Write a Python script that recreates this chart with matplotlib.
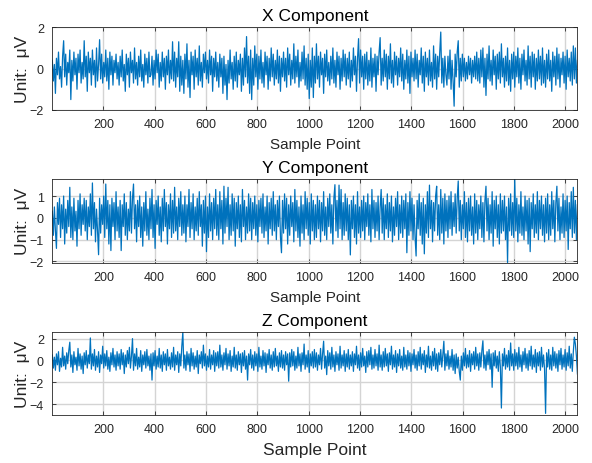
import numpy as np
import matplotlib
matplotlib.use("Agg")
import matplotlib.pyplot as plt

# Signals, one value per ~4 samples (512 values, 2048 samples)
N_SAMPLES = 2048

x_component = [
    0.4, -0.6, 0.2, -1.2, 0.5, -0.3, 0.8, -0.5, 0.1, -0.9, 0.6, 1.35, -0.4, 0.7, -0.8, 0.3, -0.2, 0.9, -1.5, 0.4, -0.6, 0.8, -0.3, 0.5, -1.0, 0.7, -0.2, 0.9, -0.7, 0.3, -0.5, 1.35,
    -0.4, 0.6, -1.1, 0.8, -0.2, 0.5, -0.8, 0.9, -0.3, 0.4, -0.9, 1.0, -0.6, 0.2, 1.4, -0.5, 0.7, -0.7, 0.3, -0.4, 0.9, -0.6, 0.5, -1.0, 0.8, -0.3, 0.6, -0.8, 0.4, -0.2, 0.7, -0.5,
    0.3, -0.8, 0.6, -0.4, 0.9, -0.6, 0.2, -1.1, 0.7, -0.3, 0.5, -0.9, 0.8, -0.2, 0.4, -0.7, 1.0, -0.5, 0.3, -0.8, 0.6, -0.4, 0.9, -0.6, 0.2, -0.9, 0.7, -0.3, 0.5, -0.7, 0.8, -0.4,
    -0.3, 0.6, -0.8, 0.4, -0.5, 0.9, -0.2, 0.7, -0.9, 0.3, -0.6, 0.8, -0.4, 0.5, -1.0, 0.6, -0.3, 0.9, -0.7, 0.4, -0.5, 1.3, -0.6, 0.8, -0.9, 0.5, -0.4, 1.3, -1.1, 0.6, -0.8, 0.4,
    -1.2, 0.7, -0.5, 1.2, -0.9, 0.4, -1.4, 0.8, -0.3, 0.6, -1.0, 0.9, -0.4, 0.5, -0.8, 1.1, -0.6, 0.3, -0.9, 0.7, -0.2, 0.8, -0.5, 0.4, -0.7, 0.9, -0.3, 0.6, -1.1, 0.5, -0.4, 0.8,
    -0.6, 0.3, -0.9, 0.7, -0.4, 0.5, -1.2, 0.6, -0.8, 0.2, -1.5, 0.4, -0.7, 0.9, -0.5, 0.3, -1.0, 0.6, -0.6, 0.8, -0.9, 0.4, -0.3, 0.7, -1.1, 0.5, -0.8, 1.0, -0.4, 1.55, -0.7, 0.6,
    -1.2, 0.9, -1.5, 0.5, -0.8, 1.1, -0.4, 0.7, -1.0, 0.6, -0.5, 0.9, -0.7, 0.3, -0.9, 0.8, -0.3, 0.6, -1.0, 0.5, -0.6, 1.0, -0.4, 0.7, -0.8, 0.4, -0.5, 0.9, -0.7, 0.6, -1.1, 0.5,
    -0.4, 0.8, -0.6, 0.5, -0.9, 1.0, -0.3, 0.7, -0.8, 0.4, -0.5, 1.2, -0.7, 0.6, -0.4, 0.9, -0.9, 0.3, -0.6, 0.8, -0.5, 1.1, -0.8, 0.5, -1.0, 0.7, -1.45, 0.4, -0.9, 1.0, -1.4, 0.6,
    -0.7, 1.2, -0.5, 0.6, -0.9, 0.8, -0.3, 0.5, -1.2, 0.7, -0.4, 0.9, -0.6, 0.3, -0.8, 0.6, -0.5, 1.0, -0.7, 0.4, -0.9, 0.8, -0.3, 0.6, -1.0, 0.5, -0.6, 0.9, -0.4, 0.7, -0.8, 0.5,
    -0.5, 0.8, -0.9, 0.4, -0.6, 1.0, -0.3, 0.6, -1.1, 0.5, 1.45, -0.7, 0.9, -0.4, 0.6, -1.0, 0.7, -0.5, 0.8, -0.8, 0.4, -0.6, 1.0, -0.9, 0.5, -0.4, 0.7, -1.1, 0.6, -0.3, 0.8, 1.5,
    -0.8, 0.5, -0.6, 0.9, -0.4, 0.7, -1.0, 0.6, -0.5, 1.2, -0.7, 0.4, -0.9, 0.8, -0.3, 0.6, -0.8, 0.5, -0.4, 1.0, -0.6, 0.7, -1.0, 0.4, -0.5, 0.9, -0.7, 0.6, -1.2, 0.8, -0.4, 0.5,
    -0.6, 0.9, -0.5, 0.7, -0.9, 0.4, -0.3, 1.0, -0.7, 0.6, -1.1, 0.8, -0.4, 0.5, -0.8, 0.9, -0.6, 0.3, -0.9, 1.1, -0.5, 0.7, -1.0, 0.6, -0.4, 0.8, 1.77, -0.7, 0.5, -0.9, 0.6, -0.3,
    -0.8, 0.6, -0.5, 0.9, -1.0, 0.4, -0.6, -1.82, 0.7, -0.4, 0.8, 1.35, -0.9, 0.5, -0.6, 0.7, -0.4, 0.5, -0.6, 0.3, -0.5, 0.6, -0.3, 0.5, -0.7, 0.4, -0.4, 0.6, -0.5, 0.8, -0.6, 0.5,
    -0.7, 0.9, -0.4, 1.0, -0.9, 0.5, -1.3, 0.7, -0.5, 1.1, -0.6, 0.4, -0.8, 0.9, -0.3, 0.6, -1.0, 0.7, -0.5, 0.8, -0.7, 1.2, -0.4, 0.5, -0.9, 0.6, -0.6, 1.0, -0.8, 0.4, -1.1, 0.7,
    -0.5, 0.8, -0.9, 0.6, -0.4, 1.0, -0.7, 0.5, -1.0, 0.7, -0.3, 0.9, -0.6, 0.4, -0.8, 1.1, -0.5, 0.6, -0.9, 0.8, -0.4, 0.7, -1.0, 0.5, -0.6, 0.9, -0.5, 0.6, -0.8, 1.0, -0.7, 0.4,
    -0.9, 0.7, -0.5, 0.9, -0.6, 0.4, -1.1, 0.8, -0.4, 0.6, -0.8, 1.0, -0.5, 0.7, -0.9, 0.5, -0.3, 0.8, -0.7, 0.6, -1.0, 0.9, -0.4, 0.5, -0.6, 0.8, -0.8, 1.1, -0.5, 1.0, -0.7, 0.4,
]

y_component = [
    0.3, -0.8, 0.5, -0.6, -1.4, 0.7, -0.3, 0.9, -0.9, 0.6, -0.5, 1.0, -1.2, 0.4, -0.7, 0.8, -0.4, 1.4, -0.9, 0.5, -1.0, 0.9, -0.6, 0.3, -1.3, 0.8, -0.5, 1.1, -0.8, 0.6, -0.3, 0.9,
    -0.6, 0.8, -1.0, 0.5, -0.4, 1.1, -0.8, 1.6, -0.5, 0.7, -1.1, 0.4, -0.6, -1.69, 0.9, -0.7, 0.6, -0.3, 1.0, -0.9, 1.55, -0.5, 0.8, -1.2, 0.6, -1.5, 0.9, -0.4, 0.7, -1.0, 1.2, -0.6,
    0.5, -0.9, 0.8, -1.5, 0.6, -0.4, 1.1, -0.8, 0.7, -1.0, 0.4, -0.6, 1.2, -0.7, 0.9, 1.55, -0.5, 0.6, -1.1, 0.8, -0.4, 1.0, -0.9, 0.5, -1.3, 0.7, -0.6, 1.2, -0.8, 0.4, -1.0, 0.9,
    -0.5, 1.3, -0.9, 0.6, -1.4, 0.8, -0.3, 1.0, -0.8, 0.5, -1.1, 0.9, -0.6, 1.3, -0.4, 0.7, -1.2, 0.6, -0.5, 1.1, -0.9, 0.8, -0.7, 1.4, -0.6, 0.5, -1.0, 0.9, -0.4, 1.2, -0.8, 0.6,
    -0.7, 1.0, -1.1, 0.6, -0.4, 1.3, -0.9, 0.7, -0.5, 1.1, -1.0, 0.5, -0.6, 0.9, -0.8, 1.2, -0.4, 0.6, -1.3, 0.8, -0.7, 1.0, -1.55, 0.5, -0.9, 1.1, -0.6, 0.7, -1.0, 0.9, -0.5, 1.3,
    -0.8, 0.6, -1.0, 1.2, -0.5, 0.8, -1.2, 1.45, -0.7, 0.9, -0.4, 1.4, -1.0, 0.6, -0.8, 1.1, -0.6, 0.9, -1.3, 0.7, -0.5, 1.0, -0.9, 0.6, -1.1, 1.3, -0.4, 0.8, -1.0, 0.5, -0.7, 1.1,
    -0.6, 0.9, -1.0, 0.7, -0.5, 1.0, -0.8, 0.6, -1.1, 0.8, -0.4, 0.9, -0.7, 1.1, -0.9, 0.5, -0.6, 1.0, -1.2, 0.7, -0.5, 0.9, -0.8, 1.2, -0.6, 0.6, -1.0, 0.8, -0.4, 1.0, -0.9, -1.6,
    0.8, -0.7, 1.1, -0.5, 0.9, -1.2, 0.6, -0.8, 1.0, -0.4, 0.7, -1.1, 1.3, -0.6, 0.8, -0.9, 0.5, -1.3, 1.0, -0.7, 0.6, -1.0, 1.2, -0.5, 0.9, -0.8, 0.7, -1.2, 1.1, -0.6, 0.8, -1.0,
    0.6, -0.9, 1.0, -0.5, 0.8, -1.1, 0.7, -0.6, 1.2, -0.8, 0.5, -1.0, 0.9, -0.4, 1.1, -0.7, 0.6, -1.2, 0.9, 1.52, -0.6, 0.8, -0.9, 1.5, -0.5, 1.3, -1.0, 0.7, -0.8, 1.1, -0.6, 0.9,
    -1.0, 0.6, -1.7, 0.8, -0.5, 1.0, -0.9, 0.6, -1.2, 1.2, -0.7, 0.5, -0.9, 0.8, -0.6, 1.0, -1.0, 0.7, -0.4, 1.1, -0.8, 0.6, -1.1, 1.3, -0.5, 0.8, -0.9, 0.7, -0.6, 1.0, -1.0, 0.5,
    1.3, -0.7, 0.9, -1.0, 0.6, -0.5, 1.1, -0.9, 0.7, -0.6, 1.0, -1.1, 0.5, -0.8, 0.9, -0.4, 1.2, -1.0, 0.6, -0.7, 1.0, -0.9, 0.8, -0.5, 1.1, -1.6, 0.7, -0.8, 1.2, -0.6, 0.9, -1.0,
    0.6, -0.9, -1.75, 0.8, -0.5, 1.1, -0.8, 0.7, -1.2, 0.9, -1.65, 0.6, -0.7, 1.2, -0.9, 1.5, -0.5, 0.8, -1.1, 0.7, -0.6, 1.0, 1.45, -0.8, 0.6, -1.0, 1.3, -0.7, 0.9, -1.2, 1.1, -0.6,
    0.8, -0.9, 1.0, -0.5, 1.2, -0.8, 0.7, -0.4, 1.1, -0.7, 0.9, 1.69, -0.6, 0.8, -1.0, 0.6, -0.5, 1.2, -0.9, 0.7, -1.1, 0.9, -0.6, 1.0, -0.8, 0.5, -1.2, 1.1, -0.7, 0.8, -1.0, 0.6,
    -0.5, 1.0, -0.9, 0.7, -1.1, 0.8, 1.45, -0.6, 0.9, -1.0, 0.6, -0.7, 1.2, -1.3, 0.8, -0.5, 1.0, -0.9, 0.6, -1.2, 1.1, -0.7, 0.8, -0.6, 1.0, -1.0, 0.5, -2.05, 0.9, -0.6, 1.1, -0.8,
    0.7, -0.9, 1.78, -0.6, 0.9, -1.1, 0.6, -0.7, 1.2, -0.8, 0.5, -1.0, 1.0, -0.6, 0.8, -1.2, 0.9, -1.55, 0.7, -0.5, 1.1, -0.9, 0.6, -0.7, 1.2, -1.0, 0.8, -0.5, 1.0, -0.8, 0.6, -1.1,
    0.9, -0.7, 1.1, -1.0, 0.6, -0.8, 1.2, -0.5, 0.8, -1.1, 0.7, 1.45, -0.6, 0.9, -1.0, 0.5, -0.7, 1.1, -0.9, 0.8, -0.6, 1.0, -1.45, 0.7, -0.5, 1.2, -0.9, 1.4, -0.7, 0.8, -1.0, 0.6,
]

z_component = [
    0.5, -0.7, 0.3, -0.9, 0.6, -0.4, 0.8, -1.0, 0.2, -0.6, 1.2, -0.5, 0.4, -0.8, 0.7, -0.3, 0.9, 1.67, -0.6, 0.5, -1.1, 0.8, -0.4, 0.3, -0.9, 1.1, -0.5, 0.6, -0.8, 0.4, -1.2, 0.7,
    -0.4, 0.9, -0.7, 0.5, -0.3, 2.06, -0.8, 0.6, -0.5, 1.0, -0.9, 0.4, -0.6, 0.8, -1.1, 0.5, -0.3, 1.3, -0.7, 0.6, -0.5, 0.9, -0.8, 0.3, -1.0, 0.7, -0.4, 1.1, -0.6, 0.5, -0.9, 0.8,
    -0.5, 0.6, -0.8, 1.0, -0.4, 0.7, -1.2, 0.5, -0.6, 0.9, -0.3, 1.2, -0.7, 0.4, 2.0, -0.9, 0.6, -0.5, 1.1, -0.8, 0.3, -0.6, 0.9, -1.0, 0.5, -0.4, 0.8, -0.7, 1.0, -0.5, 0.4, -0.9,
    0.6, -1.8, 0.7, -0.5, 0.9, -0.8, 0.4, -0.6, 1.1, -0.7, 0.5, -1.0, 0.8, -0.4, 0.6, -0.9, 1.0, -0.5, 0.3, -0.8, 0.7, -0.6, 1.2, -0.9, 0.5, -0.4, 0.8, -1.1, 0.6, -0.5, 1.3, 2.6,
    -0.7, 0.5, -0.9, 0.8, -0.4, 0.6, -1.0, 1.1, -0.5, 0.7, -0.8, 0.4, -0.6, 0.9, -1.2, 0.5, -0.3, 0.8, -0.7, 1.4, -0.5, 0.6, -0.9, 0.4, -0.6, 1.0, -0.8, 0.5, -0.4, 0.9, -1.0, 0.7,
    -0.5, 0.8, -0.7, 1.4, -0.6, 0.5, -0.9, 0.7, -0.4, 1.1, -0.8, 0.6, -0.5, 0.9, -1.0, 0.4, -0.6, 1.2, -0.7, 0.5, -0.9, 0.8, -0.4, 0.6, -1.1, 0.7, -0.5, 0.9, -0.8, 0.4, -1.8, 0.6,
    -0.4, 1.0, -0.7, 0.5, -0.9, 0.8, -0.5, 0.6, -1.0, 1.2, -0.6, 0.4, -0.8, 0.9, -0.5, 0.7, -1.1, 0.6, -0.4, 1.0, -0.7, 0.5, -0.9, 0.8, -0.6, 1.1, -0.5, 0.4, -1.0, 0.7, -0.6, 0.9,
    -0.7, 0.5, -0.9, 0.8, -0.4, 0.6, -1.9, 0.7, -0.6, 1.0, -0.5, 0.8, -0.9, 0.4, -0.7, 1.2, -0.5, 0.6, -1.0, 0.7, -0.4, 1.5, -0.8, 0.5, -0.6, 0.9, -1.1, 0.6, -0.5, 0.8, -0.7, 1.0,
    -0.6, 0.7, -0.9, 0.5, -0.4, 1.1, -0.8, 0.6, 1.76, -0.7, 0.4, -1.3, 0.9, -0.5, 0.7, -0.8, 1.2, -0.6, 0.5, -1.0, 0.8, -0.4, 0.6, -0.9, 1.3, -0.7, 0.5, -0.5, 0.9, -1.0, 0.6, -0.6,
    1.0, -0.8, 0.5, -0.5, 0.8, -1.0, 0.6, -0.4, 1.3, -0.7, 0.5, -0.9, 0.7, -0.6, 1.1, -0.5, 0.4, -1.1, 0.8, -0.6, 0.9, -0.4, 1.2, -0.8, 0.5, -0.7, 1.0, -0.5, 0.6, -0.9, 1.4, -0.6,
    0.5, -0.9, 0.8, -0.6, 1.1, -0.5, 0.6, -1.0, 0.7, -0.4, 1.3, -0.8, 0.5, -0.6, 0.9, -1.1, 0.6, -0.5, 1.0, -0.7, 0.4, -0.9, 1.2, -0.6, 0.5, -0.8, 0.9, -0.5, 0.7, -1.0, 0.6, -0.4,
    1.0, -0.7, 0.5, -0.9, 0.8, -0.5, 1.2, -0.8, 0.6, -0.4, 0.9, -1.1, 0.5, -0.6, 1.3, -0.7, 0.4, -0.9, 0.8, -0.5, 1.1, -0.8, 0.6, -1.0, 0.7, -0.4, 1.0, -0.6, 0.5, 1.76, -0.9, 0.6,
    -0.5, 0.9, -0.8, 0.4, -0.6, 1.0, -0.9, 0.5, -1.2, 0.6, -0.7, 0.3, -1.0, -1.8, 0.4, -0.9, 0.7, -0.5, 1.1, -0.7, 0.5, -0.6, 0.9, -1.0, 0.6, -0.4, 0.8, -0.8, 1.2, -0.5, 0.6, -0.9,
    0.7, -0.6, 0.9, 1.8, -0.7, 0.5, -0.9, 0.8, -0.4, 1.0, -0.8, 0.6, -2.46, 0.7, -0.5, 0.9, -0.7, 0.4, -1.0, 0.8, -0.6, -4.36, 0.6, -0.5, 1.1, -0.8, 0.5, -0.6, 0.9, -0.9, 1.6, -0.5,
    0.6, -0.9, 1.0, -0.5, 0.7, -0.8, 1.2, -0.6, 0.5, -1.0, 0.8, -0.4, 1.1, -0.7, 0.6, -0.9, 0.9, -0.5, 1.3, -0.8, 0.5, -0.6, 1.0, -1.1, 0.7, -0.5, 0.8, -0.9, 1.2, -0.6, 0.5, -0.8,
    -4.85, 0.7, -0.6, 1.0, -0.8, 0.5, -0.9, 1.2, -0.5, 0.8, -0.7, 0.6, -1.0, 0.9, -0.4, 1.1, -0.8, 0.5, -0.6, 1.0, -0.9, 0.7, -0.5, 1.3, -0.7, 0.6, -1.0, 0.8, 2.13, 1.5, 0.4, -1.24,
]

titles = ["X Component", "Y Component", "Z Component"]
y_limits = [(-2, 2), (-2.05, 1.78), (-5.0, 2.65)]
y_ticks = [[-2, 0, 2], [-2, -1, 0, 1], [-4, -2, 0, 2]]
x_ticks = list(range(200, 2001, 200))

LINE_COLOR = "#0072BD"
DARK = "#262626"

plt.rcParams["font.family"] = ["Liberation Sans", "DejaVu Sans"]
plt.rcParams["path.simplify"] = False

fig = plt.figure(figsize=(5.92, 4.64), dpi=100)
positions = [
    [0.0884, 0.761, 0.887, 0.178],
    [0.0884, 0.432, 0.887, 0.180],
    [0.0884, 0.1034, 0.887, 0.180],
]

for k, values in enumerate([x_component, y_component, z_component]):
    ax = fig.add_axes(positions[k])
    samples = np.linspace(1, N_SAMPLES, len(values))
    ax.plot(samples, values, color=LINE_COLOR, linewidth=0.9,
            solid_joinstyle="round")

    ax.set_xlim(1, N_SAMPLES)
    ax.set_ylim(*y_limits[k])
    ax.set_xticks(x_ticks)
    ax.set_yticks(y_ticks[k])
    ax.grid(True, color="#d4d4d4", linewidth=1.0)
    ax.set_axisbelow(True)
    ax.tick_params(direction="in", top=True, right=True, length=3, width=0.6,
                   labelsize=9, colors=DARK, pad=6)
    for sp in ax.spines.values():
        sp.set_color(DARK)
        sp.set_linewidth(0.6)

    ax.set_title(titles[k], fontsize=12.5, pad=5)
    ax.set_xlabel("Sample Point", fontsize=12.5 if k == 2 else 11,
                  labelpad=5, color=DARK)
    ax.set_ylabel("Unit:  μV", fontsize=12.5, labelpad=0, color=DARK)

fig.savefig("out.png", dpi=100)
